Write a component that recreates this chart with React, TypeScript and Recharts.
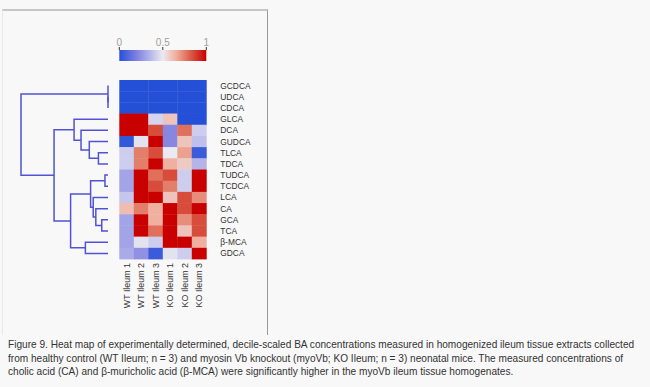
import React from "react";
import {
    ReferenceArea,
    Scatter,
    ScatterChart,
    XAxis,
    YAxis,
} from "recharts";

// bile acids, top to bottom (dendrogram order)
const ROWS = [
    "GCDCA", "UDCA", "CDCA", "GLCA", "DCA", "GUDCA", "TLCA", "TDCA",
    "TUDCA", "TCDCA", "LCA", "CA", "GCA", "TCA", "β-MCA", "GDCA",
];
const SAMPLES = ["WT Ileum 1", "WT Ileum 2", "WT Ileum 3", "KO Ileum 1", "KO Ileum 2", "KO Ileum 3"];

// decile-scaled values, one array per sample (same order as ROWS)
const WT1 = [0, 0, 0, 1, 1, 0.03, 0.42, 0.42, 0.3, 0.3, 0.4, 0.62, 0.3, 0.3, 0.3, 0.32];
const WT2 = [0, 0, 0, 1, 1, 0.48, 0.75, 0.75, 1, 1, 1, 0.75, 1, 1, 0.48, 0.25];
const WT3 = [0, 0, 0, 0.44, 0.85, 1, 0.85, 1, 0.78, 0.85, 1, 0.65, 0.65, 0.78, 0.42, 0.05];
const KO1 = [0, 0, 0, 0.6, 0.22, 0.22, 0.5, 0.65, 0.85, 0.75, 0.6, 1, 1, 1, 1, 0.48];
const KO2 = [0, 0, 0, 0, 0.78, 0.6, 0.68, 0.58, 0.42, 0.42, 0.85, 0.85, 0.72, 0.6, 1, 0.42];
const KO3 = [0, 0, 0, 0, 0.42, 0.38, 0.05, 0.35, 1, 1, 0.72, 1, 0.85, 0.85, 0.65, 1];
const COLUMNS = [WT1, WT2, WT3, KO1, KO2, KO3];

// row clustering: [left node, right node, height]; leaves are 0..15, merges get 16, 17, ...
const MERGES: [number, number, number][] = [
    [1, 2, 0],
    [0, 16, 0],
    [8, 9, 0.035],
    [6, 7, 0.11],
    [12, 13, 0.072],
    [11, 20, 0.14],
    [10, 21, 0.17],
    [18, 22, 0.2],
    [14, 15, 0.26],
    [23, 24, 0.43],
    [5, 19, 0.215],
    [4, 26, 0.31],
    [3, 27, 0.39],
    [28, 25, 0.62],
    [17, 29, 1.0],
];

// colour scale
const CMAP = [
    { v: 0, c: [36, 80, 216] },
    { v: 0.2, c: [128, 128, 224] },
    { v: 0.35, c: [180, 180, 234] },
    { v: 0.5, c: [234, 234, 240] },
    { v: 0.65, c: [240, 176, 160] },
    { v: 0.8, c: [221, 101, 80] },
    { v: 1, c: [200, 0, 0] },
];
const CBAR_TICKS = [0, 0.5, 1];

const W = 650;
const H = 387;
const PLOT_L = 119.3;
const PLOT_R = 206.3;
const PLOT_T = 80;
const PLOT_B = 259;
const DENDRO_L = 21;
const DENDRO_R = 108;
const LINE_BLUE = "#5252d6";

function colorFor(v: number) {
    for (let i = 1; i < CMAP.length; i++) {
        if (v <= CMAP[i].v) {
            const a = CMAP[i - 1];
            const b = CMAP[i];
            const t = (v - a.v) / (b.v - a.v);
            const c = a.c.map((x, k) => Math.round(x + (b.c[k] - x) * t));
            return `rgb(${c[0]},${c[1]},${c[2]})`;
        }
    }
    const last = CMAP[CMAP.length - 1].c;
    return `rgb(${last[0]},${last[1]},${last[2]})`;
}

const cells = COLUMNS.flatMap((col, ci) =>
    col.map((v, ri) => ({ x: ci + 0.5, y: ri + 0.5, v }))
);

// build the U-shaped links of the dendrogram
function dendroLinks() {
    const pos = ROWS.map((_, i) => ({ h: 0, y: i + 0.5 }));
    return MERGES.map(([a, b, h]) => {
        const pa = pos[a];
        const pb = pos[b];
        pos.push({ h, y: (pa.y + pb.y) / 2 });
        return [
            { h: pa.h, y: pa.y },
            { h, y: pa.y },
            { h, y: pb.y },
            { h: pb.h, y: pb.y },
        ];
    });
}
const links = dendroLinks();

const cellW = (PLOT_R - PLOT_L) / SAMPLES.length;
const cellH = (PLOT_B - PLOT_T) / ROWS.length;

const HeatCell = (props: any) => {
    const { cx, cy, payload } = props;
    return (
        <rect
            x={cx - cellW / 2}
            y={cy - cellH / 2}
            width={cellW + 0.4}
            height={cellH + 0.4}
            fill={colorFor(payload.v)}
        />
    );
};

const RowTick = (props: any) => {
    const { x, y, payload } = props;
    const idx = Math.round(payload.value - 0.5);
    return (
        <text x={x} y={y} dominantBaseline="central" fontSize={8.4} fill="#333">
            {ROWS[idx]}
        </text>
    );
};

const ColTick = (props: any) => {
    const { x, y, payload } = props;
    const idx = Math.round(payload.value - 0.5);
    return (
        <text
            transform={`translate(${x},${y}) rotate(-90)`}
            textAnchor="end"
            dominantBaseline="central"
            fontSize={8.9}
            fill="#333"
        >
            {SAMPLES[idx]}
        </text>
    );
};

const abs: React.CSSProperties = { position: "absolute", left: 0, top: 0 };

export default function App() {
    return (
        <div
            style={{
                position: "absolute",
                left: 0,
                top: 0,
                width: W,
                height: H,
                background: "#f8f8f8",
                fontFamily: "'Liberation Sans', Arial, sans-serif",
                overflow: "hidden",
            }}
        >
            <svg width={0} height={0} style={{ position: "absolute" }}>
                <defs>
                    <linearGradient id="cbar" x1="0" y1="0" x2="1" y2="0">
                        {CMAP.map((s) => (
                            <stop key={s.v} offset={`${s.v * 100}%`} stopColor={colorFor(s.v)} />
                        ))}
                    </linearGradient>
                </defs>
            </svg>

            {/* figure frame */}
            <div
                style={{
                    position: "absolute",
                    left: 2,
                    top: 9,
                    width: 264,
                    height: 324,
                    borderTop: "2px solid #c6c6c6",
                    borderRight: "1.5px solid #9a9a9a",
                    borderLeft: "1px solid #e8e8e8",
                }}
            />

            {/* colour bar */}
            <div style={abs}>
                <ScatterChart
                    width={W}
                    height={H}
                    margin={{ top: 30, left: PLOT_L, right: W - PLOT_R, bottom: H - 61 }}
                >
                    <XAxis
                        type="number"
                        dataKey="x"
                        orientation="top"
                        domain={[0, 1]}
                        ticks={CBAR_TICKS}
                        height={20}
                        axisLine={false}
                        tickSize={3}
                        tickMargin={1}
                        tickLine={{ stroke: "#333" }}
                        tick={{ fill: "#a0a0a0", fontSize: 10 }}
                        interval={0}
                    />
                    <YAxis type="number" dataKey="y" domain={[0, 1]} hide />
                    <ReferenceArea x1={0} x2={1} y1={0} y2={1} fill="url(#cbar)" fillOpacity={1} stroke="none" />
                    <Scatter
                        data={CBAR_TICKS.map((t) => ({ x: t, y: 0.5 }))}
                        shape={() => <g />}
                        isAnimationActive={false}
                    />
                </ScatterChart>
            </div>

            {/* dendrogram */}
            <div style={abs}>
                <ScatterChart
                    width={W}
                    height={H}
                    margin={{ top: PLOT_T, left: DENDRO_L, right: W - DENDRO_R, bottom: H - PLOT_B }}
                >
                    <XAxis type="number" dataKey="h" domain={[0, 1]} reversed hide />
                    <YAxis type="number" dataKey="y" domain={[0, ROWS.length]} reversed hide />
                    {links.map((pts, i) => (
                        <Scatter
                            key={i}
                            data={pts}
                            line={{ stroke: LINE_BLUE, strokeWidth: 1.5 }}
                            shape={() => <g />}
                            isAnimationActive={false}
                        />
                    ))}
                </ScatterChart>
            </div>

            {/* heat map */}
            <div style={abs}>
                <ScatterChart
                    width={W}
                    height={H}
                    margin={{ top: PLOT_T, left: PLOT_L, right: W - PLOT_R - 60, bottom: H - PLOT_B - 60 }}
                >
                    <XAxis
                        type="number"
                        dataKey="x"
                        domain={[0, SAMPLES.length]}
                        ticks={SAMPLES.map((_, i) => i + 0.5)}
                        interval={0}
                        height={60}
                        axisLine={false}
                        tickLine={false}
                        tickSize={0}
                        tickMargin={4}
                        tick={<ColTick />}
                    />
                    <YAxis
                        type="number"
                        dataKey="y"
                        orientation="right"
                        domain={[0, ROWS.length]}
                        reversed
                        ticks={ROWS.map((_, i) => i + 0.5)}
                        interval={0}
                        width={60}
                        axisLine={false}
                        tickLine={false}
                        tickSize={0}
                        tickMargin={14}
                        tick={<RowTick />}
                    />
                    <Scatter data={cells} shape={HeatCell} isAnimationActive={false} />
                </ScatterChart>
            </div>

            {/* caption */}
            <div
                style={{
                    position: "absolute",
                    left: 8,
                    top: 338,
                    fontSize: 10.1,
                    lineHeight: "13.5px",
                    color: "#333",
                    whiteSpace: "nowrap",
                }}
            >
                <div>
                    Figure 9. Heat map of experimentally determined, decile-scaled BA concentrations measured in
                    homogenized ileum tissue extracts collected
                </div>
                <div>
                    from healthy control (WT Ileum; n = 3) and myosin Vb knockout (myoVb; KO Ileum; n = 3) neonatal
                    mice. The measured concentrations of
                </div>
                <div>
                    cholic acid (CA) and β-muricholic acid (β-MCA) were significantly higher in the myoVb ileum tissue
                    homogenates.
                </div>
            </div>
        </div>
    );
}
